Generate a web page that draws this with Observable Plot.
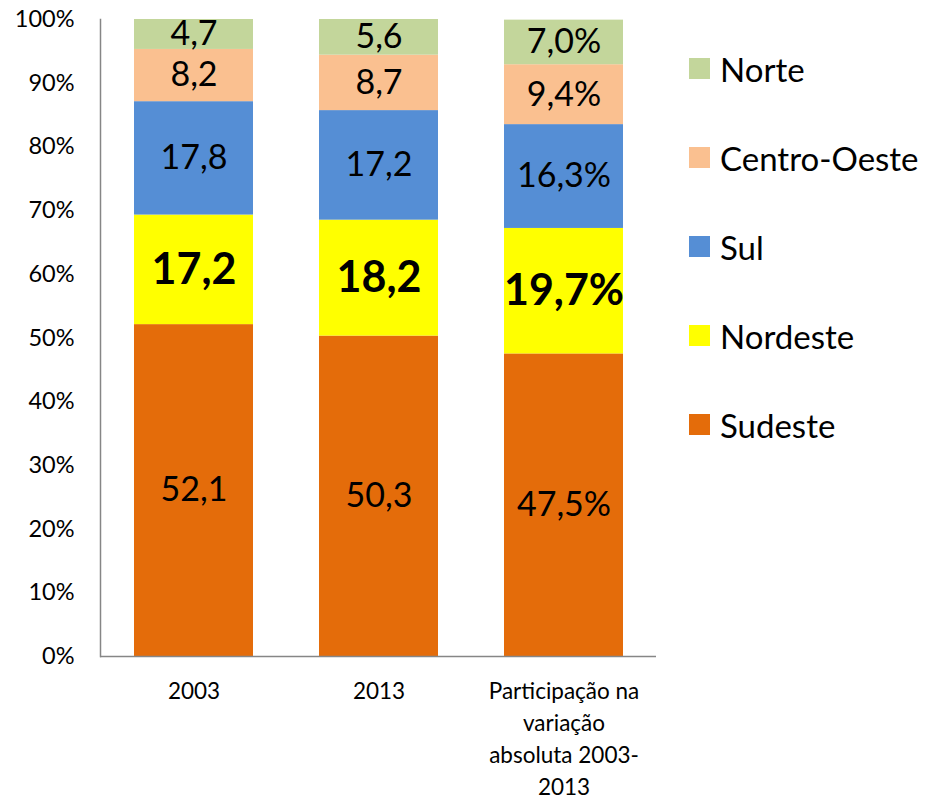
<!DOCTYPE html>
<html>
<head>
<meta charset="utf-8">
<script src="https://cdn.jsdelivr.net/npm/d3@7"></script>
<script src="https://cdn.jsdelivr.net/npm/@observablehq/plot@0.6"></script>
<style>
  html, body { margin: 0; padding: 0; background: #fff; }
  #wrap { position: relative; width: 937px; height: 799px; font-family: Lato, "Open Sans", sans-serif; }
  #legend { position: absolute; left: 689px; top: 24px; }
  .row { height: 89px; display: flex; align-items: center; font-size: 33px; color: #000; }
  .sw { width: 21px; height: 21px; margin-right: 10px; }
</style>
</head>
<body>
<div id="wrap"><div id="legend"></div></div>
<script>
const categories = ["2003", "2013", "Participação na variação absoluta 2003-2013"];
const categoryLabels = ["2003", "2013", "Participação na\nvariação\nabsoluta 2003-\n2013"];
const series = ["Sudeste", "Nordeste", "Sul", "Centro-Oeste", "Norte"];
const colors = ["#E46C0A", "#FFFF00", "#558ED5", "#FAC090", "#C3D69B"];
const sudeste = [52.1, 50.3, 47.5];
const nordeste = [17.2, 18.2, 19.7];
const sul = [17.8, 17.2, 16.3];
const centroOeste = [8.2, 8.7, 9.4];
const norte = [4.7, 5.6, 7.0];
const yTicks = [0, 0.1, 0.2, 0.3, 0.4, 0.5, 0.6, 0.7, 0.8, 0.9, 1.0];
const percentSuffix = [false, false, true];

const valuesBySeries = [sudeste, nordeste, sul, centroOeste, norte];
const rows = [];
series.forEach((s, si) => {
  categories.forEach((c, ci) => {
    const v = valuesBySeries[si][ci];
    const txt = v.toFixed(1).replace(".", ",") + (percentSuffix[ci] ? "%" : "");
    rows.push({category: c, series: s, value: v / 100, label: txt});
  });
});

const chart = Plot.plot({
  width: 937,
  height: 799,
  marginLeft: 100,
  marginRight: 281,
  marginTop: 19,
  marginBottom: 143,
  style: {fontFamily: "Lato, 'Open Sans', sans-serif", background: "#fff"},
  x: {domain: categories, paddingInner: 0.357, paddingOuter: 0.18, label: null},
  y: {domain: [0, 1], label: null},
  color: {domain: series, range: colors},
  marks: [
    Plot.barY(rows, {x: "category", y: "value", fill: "series", order: series}),
    Plot.text(rows, Plot.stackY({
      x: "category", y: "value", z: "series", order: series,
      text: d => d.series === "Nordeste" ? "" : d.label,
      fontSize: 34, fill: "#000"
    })),
    Plot.text(rows, Plot.stackY({
      x: "category", y: "value", z: "series", order: series,
      text: d => d.series === "Nordeste" ? d.label : "",
      fontSize: 43, fontWeight: "bold", fill: "#000"
    })),
    Plot.axisY({ticks: yTicks, tickFormat: d3.format(".0%"), tickSize: 0, tickPadding: 26, fontSize: 23.5, fill: "#000"}),
    Plot.axisX({tickSize: 0, tickPadding: 20, fontSize: 22.5, fill: "#000", lineHeight: 1.42,
      tickFormat: d => categoryLabels[categories.indexOf(d)]}),
    Plot.frame({anchor: "left", stroke: "#868686", strokeWidth: 1.5}),
    Plot.ruleY([0], {stroke: "#868686", strokeWidth: 1.5})
  ]
});
document.getElementById("wrap").prepend(chart);

const legend = document.getElementById("legend");
series.slice().reverse().forEach(s => {
  const row = document.createElement("div");
  row.className = "row";
  const sw = document.createElement("div");
  sw.className = "sw";
  sw.style.background = colors[series.indexOf(s)];
  const t = document.createElement("span");
  t.textContent = s;
  row.appendChild(sw);
  row.appendChild(t);
  legend.appendChild(row);
});
</script>
</body>
</html>
